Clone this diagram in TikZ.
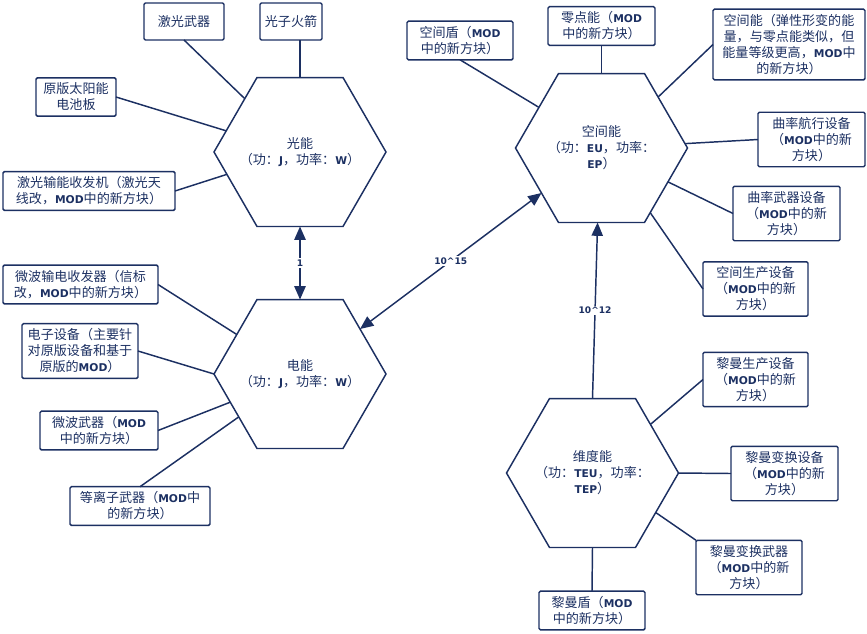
\documentclass[tikz,border=0pt]{standalone}
\usepackage{fontspec}
\usepackage{tikz}
\usetikzlibrary{shapes.geometric,arrows.meta}
\setmainfont{Noto Sans CJK SC}
\newfontfamily\latfont[Scale=0.82]{DejaVu Sans}
\newfontfamily\numfont{DejaVu Sans}
\newcommand{\mb}[1]{{\latfont\bfseries #1}}
\definecolor{navy}{RGB}{28,48,98}
\tikzset{
  energy/.style={draw=navy, line width=1.1pt, regular polygon, regular polygon sides=6,
    minimum size=129pt, inner sep=0pt, outer sep=0pt},
  energytxt/.style={align=center, text=navy, inner sep=0pt, font=\fontsize{9.8}{12}\selectfont},
  leaf/.style={draw=navy, line width=1.1pt, rounded corners=1pt, align=center, text=navy,
    minimum height=27.75pt, inner xsep=3pt, inner ysep=3.8pt, outer sep=0pt,
    font=\fontsize{9.8}{12}\selectfont},
  link/.style={draw=navy, line width=1.1pt},
  tip/.tip={Triangle[length=10pt,width=8.5pt]},
  ratio/.style={draw=navy, line width=1.1pt, tip-tip},
  ratiolbl/.style={fill=white, inner sep=1pt, text=navy, font=\numfont\bfseries\fontsize{6.8}{8}\selectfont}
}
\begin{document}
\begin{tikzpicture}[x=0.75pt,y=0.75pt,yscale=-1,xscale=1]
\useasboundingbox (0,0) rectangle (867,633);

% Energy Nodes
\node [energy] (light) at (300,152) {};
\node [energytxt] (lighttxt) at (light.center) {光能\\（功：\mb{J}，功率：\mb{W}）};
\node [energy] (elec) at (300,374) {};
\node [energytxt] (electxt) at (elec.center) {电能\\（功：\mb{J}，功率：\mb{W}）};
\node [energy] (space) at (601.5,148) {};
\node [energytxt] (spacetxt) at (space.center) {空间能\\（功：\mb{EU}，功率：\\\mb{EP}）};
\node [energy] (dim) at (592.5,473) {};
\node [energytxt] (dimtxt) at (dim.center) {维度能\\（功：\mb{TEU}，功率：\\\mb{TEP}）};

% Text Node
\node [leaf, minimum width=60pt] (laserwpn) at (184,21.5) {激光武器};
% Text Node
\node [leaf, minimum width=46.5pt] (photon) at (291,21.5) {光子火箭};
% Text Node
\node [leaf, minimum width=60pt] (solar) at (76,97) {原版太阳能\\电池板};
% Text Node
\node [leaf, minimum width=129pt] (lasertx) at (89,191) {激光输能收发机（激光天\\线改，\mb{MOD}中的新方块）};
% Text Node
\node [leaf, minimum width=116.25pt] (microtx) at (80.5,284.5) {微波输电收发器（信标\\改，\mb{MOD}中的新方块）};
% Text Node
\node [leaf, minimum width=87pt] (device) at (80,351) {电子设备（主要针\\对原版设备和基于\\原版的\mb{MOD}）};
% Text Node
\node [leaf, minimum width=88.5pt] (microwpn) at (99,430.5) {微波武器（\mb{MOD}\\中的新方块）};
% Text Node
\node [leaf, minimum width=105pt] (plasma) at (140,506) {等离子武器（\mb{MOD}中\\的新方块）};
% Text Node
\node [leaf, minimum width=79.5pt] (spshield) at (460,40.5) {空间盾（\mb{MOD}\\中的新方块）};
% Text Node
\node [leaf, minimum width=80.25pt] (zero) at (601.5,26) {零点能（\mb{MOD}\\中的新方块）};
% Text Node
\node [leaf, minimum width=114pt] (elastic) at (789,44.5) {空间能（弹性形变的能\\量，与零点能类似，但\\能量等级更高，\mb{MOD}中\\的新方块）};
% Text Node
\node [leaf, minimum width=80.25pt] (warpdrv) at (811.5,139.5) {曲率航行设备\\（\mb{MOD}中的新\\方块）};
% Text Node
\node [leaf, minimum width=80.25pt] (warpwpn) at (786.5,213.5) {曲率武器设备\\（\mb{MOD}中的新\\方块）};
% Text Node
\node [leaf, minimum width=78.75pt] (spprod) at (755.5,289) {空间生产设备\\（\mb{MOD}中的新\\方块）};
% Text Node
\node [leaf, minimum width=78.75pt] (rmprod) at (755.5,379.5) {黎曼生产设备\\（\mb{MOD}中的新\\方块）};
% Text Node
\node [leaf, minimum width=80.25pt] (rmtrans) at (784.5,473.5) {黎曼变换设备\\（\mb{MOD}中的新\\方块）};
% Text Node
\node [leaf, minimum width=79.5pt] (rmwpn) at (749,567.5) {黎曼变换武器\\（\mb{MOD}中的新\\方块）};
% Text Node
\node [leaf, minimum width=79.5pt] (rmshield) at (592,610.5) {黎曼盾（\mb{MOD}\\中的新方块）};

%Straight Lines
\draw [link] (laserwpn.south) -- (light.136.5);
\draw [link] (photon.south -| light.north) -- (light.north);
\draw [link] (solar.east) -- (light.164);
\draw [link] (lasertx.east) -- (light.197);
%Straight Lines
\draw [link] (microtx.east) -- (elec.148);
\draw [link] (device.east) -- (elec.west);
\draw [link] (microwpn.east) -- (elec.202);
\draw [link] (plasma.north) -- (elec.215.5);
%Straight Lines
\draw [link] (spshield.south) -- (space.147);
\draw [link] (zero.south) -- (space.north);
\draw [link] (elastic.west) -- (space.42);
\draw [link] (warpdrv.west) -- (space.3);
\draw [link] (warpwpn.west) -- (space.333);
\draw [link] (spprod.west) -- (space.307);
%Straight Lines
\draw [link] (rmprod.west) -- (dim.40);
\draw [link] (rmtrans.west) -- (dim.east);
\draw [link] (rmwpn.north west) -- (dim.328);
\draw [link] (rmshield.north) -- (dim.south);

% Conversion Arrows
\draw [ratio] (light.south) -- node [ratiolbl] {1} (elec.north);
\draw [ratio] (elec) -- node [ratiolbl] {10\^{}15} (space);
\draw [ratio, tip-] (space.267) -- node [ratiolbl] {10\^{}12} (dim.north);

\end{tikzpicture}
\end{document}
